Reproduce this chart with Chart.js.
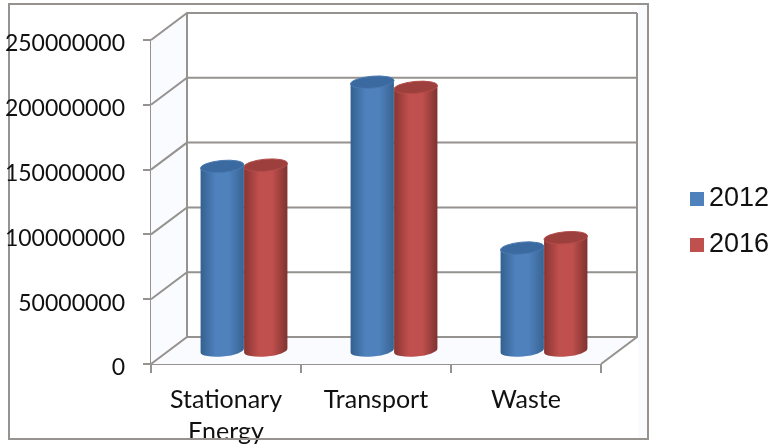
<!DOCTYPE html>
<html>
<head>
<meta charset="utf-8">
<style>html,body{margin:0;padding:0;background:#fff}canvas{display:block}</style>
<script src="https://cdn.jsdelivr.net/npm/chart.js@4"></script>
</head>
<body>
<canvas id="c" width="772" height="446"></canvas>
<script>
const categories = [['Stationary', 'Energy'], 'Transport', 'Waste'];
const seriesNames = ['2012', '2016'];
const values2012 = [142000000, 207000000, 79000000];
const values2016 = [143000000, 203000000, 87000000];
const yTicks = [0, 50000000, 100000000, 150000000, 200000000, 250000000];

// Pseudo-3D box: how far the back wall sits from the axis plane, in pixels.
const DEPTH_X = 36, DEPTH_Y = -27;
const LINE = '#959290';
const TINT = '#fafbfe';
const PALETTE = [
  { edgeL: '#33608f', mid: '#4f81bd', edgeR: '#386492', cap: '#3a6a9f', rim: '#4a7ab2' },
  { edgeL: '#883533', mid: '#c0504d', edgeR: '#7e3230', cap: '#9c3f3d', rim: '#b54c49' }
];

const frame = {
  id: 'frame',
  beforeDraw(chart) {
    const ctx = chart.ctx;
    ctx.save();
    ctx.fillStyle = '#fff';
    ctx.fillRect(0, 0, chart.width, chart.height);
    ctx.fillStyle = TINT;
    ctx.fillRect(638, 5, 9, 433);
    ctx.strokeStyle = LINE;
    ctx.lineWidth = 2;
    ctx.strokeRect(9, 4, 639, 435);
    ctx.restore();
  },
  // The bottom edge of the frame runs across the wrapped category label.
  afterDraw(chart) {
    const ctx = chart.ctx;
    ctx.save();
    ctx.strokeStyle = LINE;
    ctx.lineWidth = 2;
    ctx.beginPath();
    ctx.moveTo(9, 439);
    ctx.lineTo(648, 439);
    ctx.stroke();
    ctx.restore();
  }
};

const walls = {
  id: 'walls',
  beforeDatasetsDraw(chart) {
    const { ctx, scales: { x, y } } = chart;
    const l = x.left, r = x.right, b = y.getPixelForValue(0);
    const top = y.getPixelForValue(yTicks[yTicks.length - 1]);
    ctx.save();
    // Side wall and floor carry a very pale tint.
    ctx.fillStyle = TINT;
    ctx.beginPath();
    ctx.moveTo(l, top);
    ctx.lineTo(l + DEPTH_X, top + DEPTH_Y);
    ctx.lineTo(l + DEPTH_X, b + DEPTH_Y);
    ctx.lineTo(r + DEPTH_X, b + DEPTH_Y);
    ctx.lineTo(r, b);
    ctx.lineTo(l, b);
    ctx.closePath();
    ctx.fill();

    ctx.strokeStyle = LINE;
    ctx.lineWidth = 2;
    ctx.beginPath();
    yTicks.forEach(v => {
      const py = y.getPixelForValue(v);
      ctx.moveTo(l, py);
      ctx.lineTo(l + DEPTH_X, py + DEPTH_Y);
      ctx.lineTo(r + DEPTH_X, py + DEPTH_Y);
    });
    ctx.moveTo(l + DEPTH_X, top + DEPTH_Y);
    ctx.lineTo(l + DEPTH_X, b + DEPTH_Y);
    ctx.moveTo(r + DEPTH_X, top + DEPTH_Y);
    ctx.lineTo(r + DEPTH_X, b + DEPTH_Y);
    ctx.lineTo(r, b);
    ctx.stroke();
    ctx.restore();
  }
};

// Each bar is painted as a shaded cylinder set halfway into the box.
function drawCylinder(ctx, bar, colors) {
  const rx = bar.width / 2, ry = 6;
  const tilt = -5 * Math.PI / 180;
  const cx = bar.x + DEPTH_X / 2;
  const topY = bar.y + DEPTH_Y / 2;
  const baseY = bar.base + DEPTH_Y / 2;
  const dx = rx * Math.cos(tilt), dy = rx * Math.sin(tilt);

  const g = ctx.createLinearGradient(cx - rx, 0, cx + rx, 0);
  g.addColorStop(0, colors.edgeL);
  g.addColorStop(0.35, colors.mid);
  g.addColorStop(0.65, colors.mid);
  g.addColorStop(1, colors.edgeR);

  ctx.beginPath();
  ctx.moveTo(cx - dx, topY - dy);
  ctx.lineTo(cx - dx, baseY - dy);
  ctx.ellipse(cx, baseY + 1, rx, ry, tilt, Math.PI, 0, true);
  ctx.lineTo(cx + dx, topY + dy);
  ctx.closePath();
  ctx.fillStyle = g;
  ctx.fill();

  ctx.beginPath();
  ctx.ellipse(cx, topY, rx, ry, tilt, 0, Math.PI * 2);
  ctx.fillStyle = colors.cap;
  ctx.fill();
  ctx.strokeStyle = colors.rim;
  ctx.lineWidth = 1;
  ctx.stroke();
}

const cylinders = {
  id: 'cylinders',
  beforeDatasetDraw(chart, args) {
    const ctx = chart.ctx;
    ctx.save();
    args.meta.data.forEach(bar => drawCylinder(ctx, bar, PALETTE[args.index]));
    ctx.restore();
    return false;
  }
};

const sideLegend = {
  id: 'sideLegend',
  afterDraw(chart) {
    const ctx = chart.ctx;
    ctx.save();
    ctx.font = '27px "Liberation Sans"';
    ctx.textBaseline = 'middle';
    chart.data.datasets.forEach((ds, i) => {
      const cy = 199 + i * 46;
      ctx.fillStyle = ds.backgroundColor;
      ctx.fillRect(690, cy - 7, 14, 14);
      ctx.fillStyle = '#111';
      ctx.fillText(ds.label, 709, cy);
    });
    ctx.restore();
  }
};

new Chart(document.getElementById('c'), {
  type: 'bar',
  data: {
    labels: categories,
    datasets: [
      { label: seriesNames[0], data: values2012, backgroundColor: '#4f81bd' },
      { label: seriesNames[1], data: values2016, backgroundColor: '#c0504d' }
    ]
  },
  plugins: [frame, walls, cylinders, sideLegend],
  options: {
    responsive: false,
    animation: false,
    layout: { padding: { left: 0, right: 171, top: 40, bottom: 0 } },
    datasets: { bar: { categoryPercentage: 0.58, barPercentage: 1 } },
    plugins: { legend: { display: false }, title: { display: false }, tooltip: { enabled: false } },
    scales: {
      x: {
        offset: true,
        afterFit(s) { s.height = 82; },
        grid: { drawOnChartArea: false, tickLength: 9, color: LINE, lineWidth: 2 },
        border: { color: LINE, width: 2 },
        ticks: {
          color: '#111', padding: 11, maxRotation: 0, autoSkip: false,
          font: { family: 'Lato', size: 25, lineHeight: 1.28 }
        }
      },
      y: {
        min: 0,
        max: yTicks[yTicks.length - 1],
        afterFit(s) { s.width = 151; },
        grid: { drawOnChartArea: false, tickLength: 8, color: LINE, lineWidth: 2 },
        border: { color: LINE, width: 2 },
        ticks: {
          stepSize: 50000000, color: '#111', padding: 18,
          font: { family: 'Lato', size: 23, lineHeight: 0.35 },
          // A blank first line nudges the digits just below their tick mark.
          callback: v => ['', String(v)]
        }
      }
    }
  }
});
</script>
</body>
</html>
